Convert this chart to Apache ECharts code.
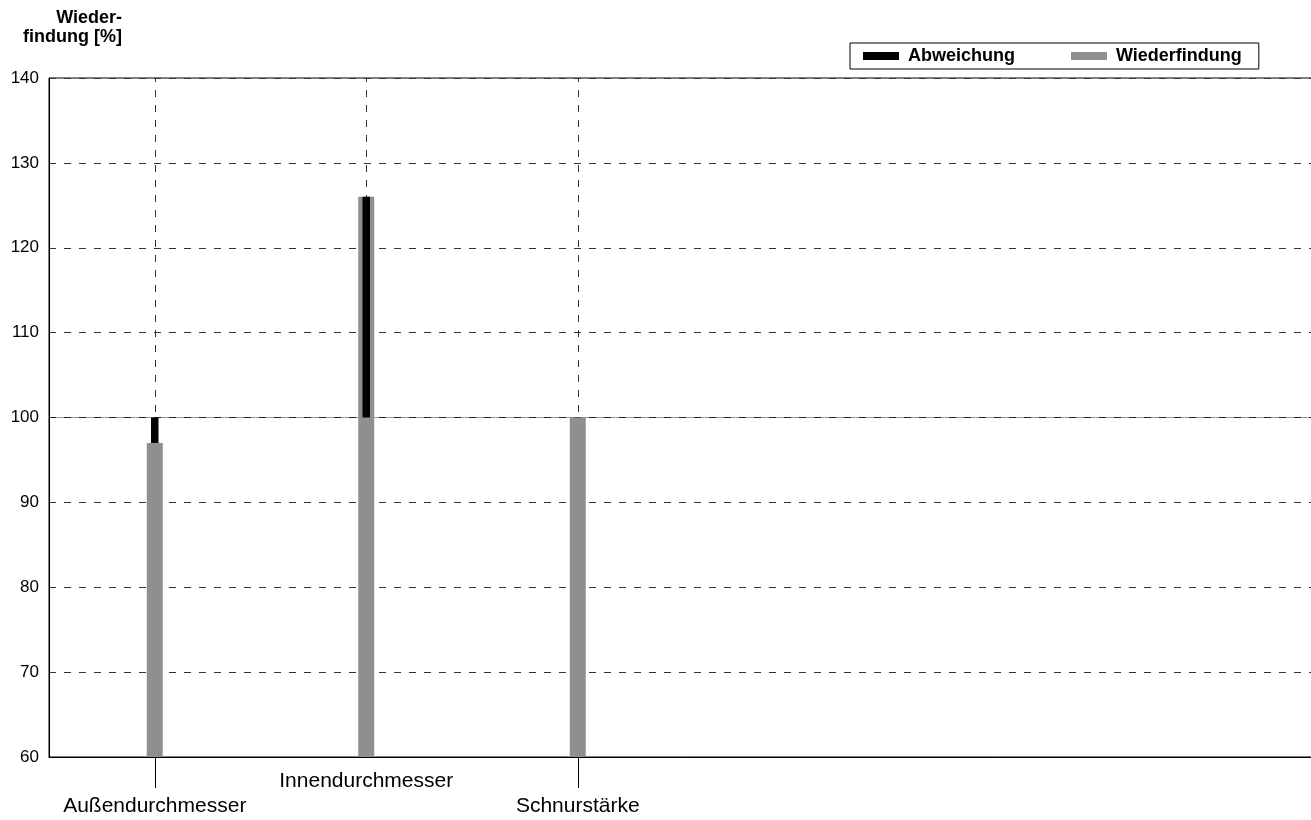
<!DOCTYPE html>
<html>
<head>
<meta charset="utf-8">
<script src="https://cdn.jsdelivr.net/npm/echarts@6/dist/echarts.min.js"></script>
<style>
html,body{margin:0;padding:0;background:#fff;}
#chart{width:1311px;height:820px;}
</style>
</head>
<body>
<div id="chart"></div>
<script>
// ---- data ----
const categories = ['Außendurchmesser', 'Innendurchmesser', 'Schnurstärke'];
const wiederfindung = [97, 126, 100];
const referenz = 100;
const yTicks = [60, 70, 80, 90, 100, 110, 120, 130, 140];
const axisTitle = 'Wieder-\nfindung [%]';
const seriesNames = ['Abweichung', 'Wiederfindung'];

// ---- derived ----
const axisCats = categories.concat(['', '', '']);
const devBase = wiederfindung.map(v => Math.min(v, referenz));
const devSize = wiederfindung.map(v => Math.abs(v - referenz));

const FONT = 'Liberation Sans, Arial, Helvetica, sans-serif';
const chart = echarts.init(document.getElementById('chart'), null, {renderer: 'canvas'});

const dashed = {color: '#333', type: [7, 8], width: 1};

chart.setOption({
  animation: false,
  backgroundColor: '#fff',
  textStyle: {fontFamily: FONT},
  grid: {
    left: 49, top: 78, width: 1269, height: 679,
    outerBoundsMode: 'none', containLabel: false,
    show: true, borderColor: '#000', borderWidth: 1, backgroundColor: 'transparent'
  },
  legend: {
    data: seriesNames.map(n => ({name: n, icon: 'rect'})),
    left: 850, top: 43,
    padding: [4, 17, 4, 13],
    borderColor: '#000', borderWidth: 1,
    itemWidth: 36, itemHeight: 8, itemGap: 56,
    textStyle: {fontFamily: FONT, fontWeight: 'bold', fontSize: 18, color: '#000', lineHeight: 18, padding: [0, 0, 0, 4]},
    selectedMode: false
  },
  graphic: [{
    type: 'text', x: 122, y: 9,
    style: {text: axisTitle, textAlign: 'right', textVerticalAlign: 'top',
      font: 'bold 18px ' + FONT, lineHeight: 19, fill: '#000'}
  }],
  xAxis: [{
    type: 'category', data: axisCats, boundaryGap: true,
    axisLine: {show: true, lineStyle: {color: '#000', width: 1}},
    axisTick: {show: true, alignWithLabel: true, length: 31,
      interval: function (i) { return i === 0 || i === 2; },
      lineStyle: {color: '#000', width: 1}},
    axisLabel: {interval: 0, margin: 12, fontSize: 21, lineHeight: 25, color: '#000', fontFamily: FONT,
      hideOverlap: false,
      formatter: function (v, i) { return (i % 2 === 0 && v) ? '\n' + v : v; }},
    splitLine: {show: false}
  }, {
    type: 'category', data: axisCats, boundaryGap: true, show: false
  }],
  yAxis: {
    type: 'value', min: yTicks[0], max: yTicks[yTicks.length - 1], interval: 10,
    axisLine: {show: true, lineStyle: {color: '#000'}},
    axisTick: {show: false},
    axisLabel: {margin: 10, fontSize: 17, color: '#000', fontFamily: FONT},
    splitLine: {show: true, lineStyle: dashed}
  },
  series: [{
    name: 'guides', type: 'line', data: [], xAxisIndex: 0, z: 1, silent: true,
    markLine: {
      silent: true, symbol: 'none', label: {show: false}, z: 1,
      data: [
        {xAxis: categories[0], lineStyle: dashed},
        {xAxis: categories[1], lineStyle: dashed},
        {xAxis: categories[2], lineStyle: dashed},
        {yAxis: referenz, lineStyle: {color: '#999', type: 'solid', width: 1}},
        {yAxis: referenz, lineStyle: {color: '#222', type: [7, 8], width: 1}}
      ]
    }
  }, {
    name: seriesNames[1], type: 'bar', xAxisIndex: 0, data: wiederfindung,
    barWidth: 16, itemStyle: {color: '#8f8f8f'}, z: 3
  }, {
    name: 'base', type: 'bar', xAxisIndex: 1, stack: 'dev', data: devBase,
    barWidth: 7.5, itemStyle: {color: 'rgba(0,0,0,0)'}, z: 4, silent: true
  }, {
    name: seriesNames[0], type: 'bar', xAxisIndex: 1, stack: 'dev', data: devSize,
    barWidth: 7.5, itemStyle: {color: '#000'}, z: 4
  }]
});
</script>
</body>
</html>
